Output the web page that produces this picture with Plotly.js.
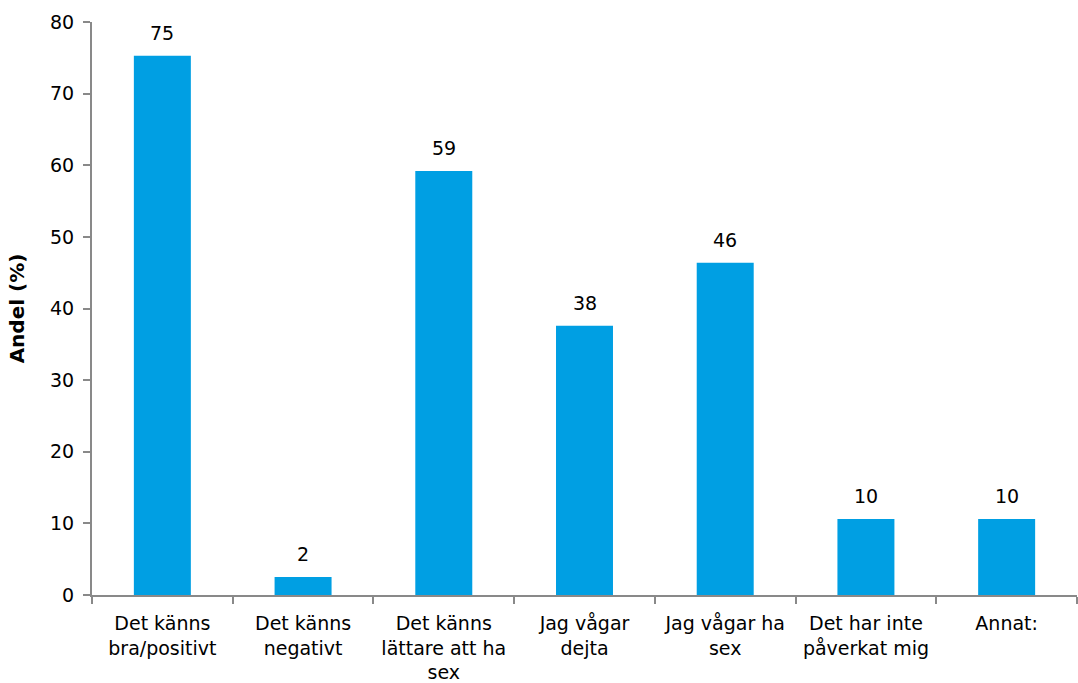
<!DOCTYPE html>
<html>
<head>
<meta charset="utf-8">
<script src="https://cdn.plot.ly/plotly-3.0.1.min.js"></script>
<style>html,body{margin:0;padding:0;background:#fff;}#chart{width:1078px;height:683px;}</style>
</head>
<body>
<div id="chart"></div>
<script>
const categories = [
  "Det känns<br>bra/positivt",
  "Det känns<br>negativt",
  "Det känns<br>lättare att ha<br>sex",
  "Jag vågar<br>dejta",
  "Jag vågar ha<br>sex",
  "Det har inte<br>påverkat mig",
  "Annat:"
];
const values = [75.3, 2.5, 59.2, 37.6, 46.4, 10.6, 10.6];
const valueLabels = ["75", "2", "59", "38", "46", "10", "10"];
const yTicks = [0, 10, 20, 30, 40, 50, 60, 70, 80];

const FONT = "Tahoma, 'DejaVu Sans', Verdana, sans-serif";
const FS = 19;
const axisColor = "#898989";

const trace = {
  type: "bar",
  x: categories,
  y: values,
  marker: {color: "#009FE3"},
  hoverinfo: "skip"
};

const annotations = categories.map((c, i) => ({
  x: c, y: values[i], xref: "x", yref: "y",
  text: valueLabels[i], showarrow: false,
  yanchor: "bottom", yshift: 10,
  font: {family: FONT, size: FS, color: "#000"}
}));

const layout = {
  width: 1078, height: 683,
  margin: {l: 92, r: 1, t: 22, b: 88},
  paper_bgcolor: "#fff", plot_bgcolor: "#fff",
  bargap: 0.595,
  showlegend: false,
  font: {family: FONT, size: FS, color: "#000"},
  xaxis: {
    type: "category",
    showline: true, linecolor: axisColor, linewidth: 2,
    ticks: "outside", ticklen: 7, tickcolor: axisColor, tickwidth: 2,
    tickson: "boundaries",
    ticklabelstandoff: 10,
    showgrid: false, zeroline: false,
    tickfont: {family: FONT, size: FS, color: "#000"},
    automargin: false
  },
  yaxis: {
    range: [0, 80],
    tickvals: yTicks,
    ticktext: yTicks.map(String),
    showline: true, linecolor: axisColor, linewidth: 2,
    ticks: "outside", ticklen: 7, tickcolor: axisColor, tickwidth: 2,
    ticklabelstandoff: 5,
    showgrid: false, zeroline: false,
    tickfont: {family: FONT, size: FS, color: "#000"},
    title: {text: "<b>Andel (%)</b>", font: {family: FONT, size: 20, color: "#000"}, standoff: 20},
    automargin: false
  },
  annotations: annotations
};

Plotly.newPlot("chart", [trace], layout, {displayModeBar: false, staticPlot: true});
</script>
</body>
</html>
